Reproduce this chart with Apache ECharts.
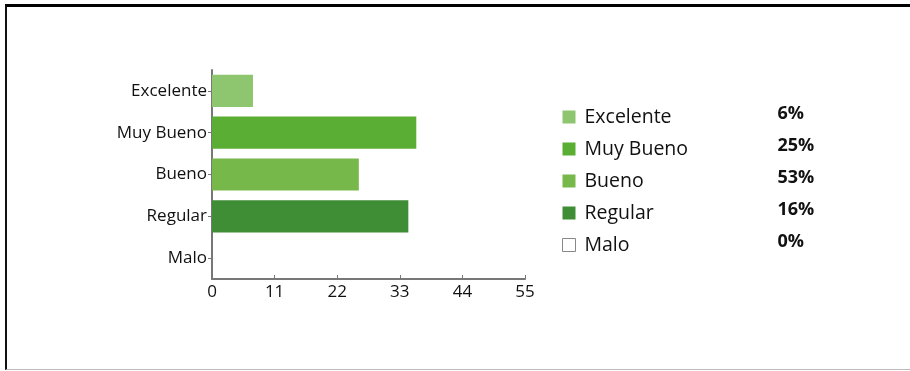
<!DOCTYPE html>
<html>
<head>
<meta charset="utf-8">
<script src="https://cdn.jsdelivr.net/npm/echarts@6/dist/echarts.min.js"></script>
<style>
  html, body { margin: 0; padding: 0; background: #fff; }
  #chart { width: 910px; height: 371px; }
  #frame {
    position: absolute; left: 5px; top: 4px; width: 905px; height: 362px;
    border-top: 3px solid #000; border-left: 2px solid #111; border-bottom: 1px solid #bbb;
    pointer-events: none;
  }
</style>
</head>
<body>
<div id="chart"></div>
<div id="frame"></div>
<script>
const categories = ['Excelente', 'Muy Bueno', 'Bueno', 'Regular', 'Malo'];
const values = [7.2, 35.9, 25.8, 34.5, 0];
const percents = ['6%', '25%', '53%', '16%', '0%'];
const colors = ['#8dc66e', '#5aae33', '#77b84a', '#3f8d34', '#ffffff'];
const ticks = [0, 11, 22, 33, 44, 55];

const fontFam = '"Open Sans", "Noto Sans", sans-serif';

// one series per category so the legend gets an entry each
const series = categories.map((name, i) => ({
    name: name,
    type: 'bar',
    stack: 'all',
    barCategoryGap: '23%',
    itemStyle: { color: colors[i] },
    data: values.map((v, j) => (j === i ? v : null))
}));

const legendData = categories.map((name, i) => (
    name === 'Malo'
        ? { name: name, itemStyle: { color: '#fff', borderColor: '#888', borderWidth: 1 } }
        : { name: name }
));

const option = {
    backgroundColor: '#fff',
    animation: false,
    grid: { left: 212, top: 70, right: 385, bottom: 92 },
    xAxis: {
        type: 'value',
        min: ticks[0],
        max: ticks[ticks.length - 1],
        interval: 11,
        splitLine: { show: false },
        axisLine: { show: true, lineStyle: { color: '#777', width: 2 } },
        axisTick: { show: true, inside: true, length: 4, lineStyle: { color: '#777' } },
        axisLabel: { color: '#111', fontSize: 17, fontFamily: fontFam, margin: 5 }
    },
    yAxis: {
        type: 'category',
        inverse: true,
        data: categories,
        axisLine: { show: true, lineStyle: { color: '#777', width: 2 } },
        axisTick: { show: true, alignWithLabel: true, length: 4, lineStyle: { color: '#777' } },
        axisLabel: { color: '#111', fontSize: 17, fontFamily: fontFam, margin: 5 }
    },
    legend: {
        orient: 'vertical',
        left: 557,
        top: 100,
        itemWidth: 13,
        itemHeight: 13,
        itemGap: 8,
        icon: 'rect',
        data: legendData,
        formatter: function (name) {
            return '{n|' + name + '}{p|' + percents[categories.indexOf(name)] + '}';
        },
        textStyle: {
            rich: {
                n: { fontSize: 19.5, fontFamily: fontFam, color: '#111', width: 193, padding: [0, 0, 0, 4], lineHeight: 22 },
                p: { fontSize: 18, fontWeight: 'bold', fontFamily: fontFam, color: '#111', lineHeight: 22, padding: [0, 0, 6, 0] }
            }
        }
    },
    series: series
};

var chartDom = document.getElementById('chart');
var myChart = echarts.init(chartDom);
myChart.setOption(option);
</script>
</body>
</html>
